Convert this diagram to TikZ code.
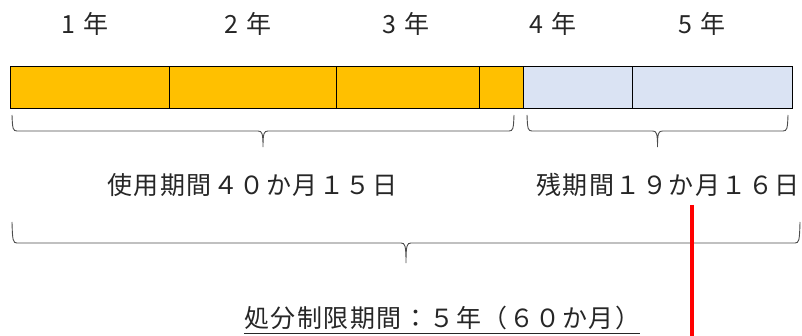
\documentclass[tikz,border=0pt]{standalone}
\usepackage{fontspec}
\newfontfamily\jpfont{Noto Sans CJK JP}
\newfontfamily\jpwide[LetterSpace=6]{Noto Sans CJK JP}
\usetikzlibrary{positioning}
\definecolor{usedcol}{HTML}{FFC000}
\definecolor{restcol}{HTML}{DAE3F3}

% brace: left x, right x, end y, line y, tip y
\newcommand{\spanbrace}[5]{%
  \draw[span] (#1,#3) .. controls ({#1+0.5},{#4-2}) and ({#1+1},#4) .. ({#1+5},#4)
    -- ({(#1+#2)/2-5},#4) .. controls ({(#1+#2)/2-1},#4) and ({(#1+#2)/2},{#4+2}) .. ({(#1+#2)/2},#5)
    .. controls ({(#1+#2)/2},{#4+2}) and ({(#1+#2)/2+1},#4) .. ({(#1+#2)/2+5},#4)
    -- ({#2-5},#4) .. controls ({#2-1},#4) and ({#2-0.5},{#4-2}) .. (#2,#3);}

\begin{document}
\begin{tikzpicture}[
x=1pt,y=-1pt,
seg/.style={
  draw,
  line width=1pt,
  minimum height=42pt,
  inner sep=0pt,
  anchor=north west
  },
used/.style={seg,fill=usedcol},
rest/.style={seg,fill=restcol},
yearlbl/.style={font=\jpfont\fontsize{25}{28}\selectfont,text=black!85},
period/.style={font=\jpwide\fontsize{25}{28}\selectfont,text=black!85,inner sep=0pt},
span/.style={draw=black!70,line width=0.9pt}
]
\useasboundingbox (0,0) rectangle (802,336);

% the five years as one bar
\node[used,minimum width=159pt] (y1) at (10,66) {};
\node[used,minimum width=167pt] (y2) at (169,66) {};
\node[used,minimum width=143pt] (y3) at (336,66) {};
\node[used,minimum width=44pt] (y4u) at (479,66) {};
\node[rest,minimum width=109pt] (y4r) at (523,66) {};
\node[rest,minimum width=160pt] (y5) at (632,66) {};

\node[yearlbl] (l1) at (85,24) {1\kern9pt年};
\node[yearlbl] (l2) at (248,24) {2\kern9pt年};
\node[yearlbl] (l3) at (406,24) {3\kern9pt年};
\node[yearlbl] (l4) at (553,24) {4\kern9pt年};
\node[yearlbl] (l5) at (702,24) {5\kern9pt年};

% braces
\spanbrace{12}{514}{115}{131}{147}
\spanbrace{527}{788}{115}{131}{147}
\spanbrace{12}{800}{222}{243}{263}

\node[period] (usedlbl) at (252,185) {使用期間４０か月１５日};
\node[period] (restlbl) at (668,185) {残期間１９か月１６日};
\node[period] (limit) at (442,318) {処分制限期間：５年（６０か月）};
\draw[black!85,line width=0.9pt] ([yshift=-3pt]limit.south west) -- ([yshift=-3pt]limit.south east);

% marker
\draw[red,line width=3.3pt] (692,205) -- (692,336);

\end{tikzpicture}
\end{document}
